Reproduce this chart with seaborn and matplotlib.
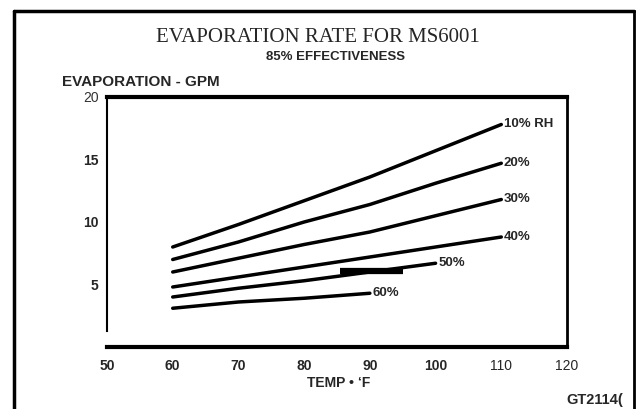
import matplotlib
matplotlib.use('Agg')
import matplotlib.pyplot as plt
import seaborn as sns
import pandas as pd

sns.set_theme(style='white')
plt.rcParams['font.family'] = ['Liberation Sans', 'DejaVu Sans']

# curves: evaporation (GPM) vs temperature (F) per relative humidity
temps = [60, 70, 80, 90, 100, 110]
rh_labels = ['10% RH', '20%', '30%', '40%', '50%', '60%']
evap_10 = [8.0, 9.8, 11.7, 13.6, 15.7, 17.8]
evap_20 = [7.0, 8.4, 10.0, 11.4, 13.1, 14.7]
evap_30 = [6.0, 7.1, 8.2, 9.2, 10.5, 11.8]
evap_40 = [4.8, 5.6, 6.4, 7.2, 8.0, 8.8]
evap_50 = [4.0, 4.7, 5.3, 6.0, 6.7]
evap_60 = [3.1, 3.6, 3.9, 4.3]
# the heavy smudge drawn over the 50% curve in the scan
smudge_x = [85.5, 95.0]
smudge_y = [6.1, 6.1]

x_ticks = [50, 60, 70, 80, 90, 100, 110, 120]
y_ticks = [5, 10, 15, 20]

rows = []
for lab, vals in zip(rh_labels, [evap_10, evap_20, evap_30, evap_40, evap_50, evap_60]):
    for t, v in zip(temps, vals):
        rows.append({'temp': t, 'evap': v, 'rh': lab})
df = pd.DataFrame(rows)

W, H = 636, 409
fig = plt.figure(figsize=(W / 100, H / 100), dpi=100)
ax = fig.add_axes([107 / W, 1 - 347 / H, 460 / W, 250 / H])

sns.lineplot(data=df, x='temp', y='evap', hue='rh', hue_order=rh_labels,
             palette=['black'] * len(rh_labels), linewidth=2.5, legend=False,
             ax=ax, sort=True)
ax.plot(smudge_x, smudge_y, color='black', linewidth=4.5, solid_capstyle='butt')

# curve labels at the line ends
for lab in rh_labels:
    sub = df[df['rh'] == lab]
    ax.text(sub['temp'].iloc[-1] + 0.4, sub['evap'].iloc[-1], lab,
            ha='left', va='center', fontsize=9.5, fontweight='bold')

ax.set_xlim(50, 120)
ax.set_ylim(0, 20)
ax.set_xticks(x_ticks)
ax.set_yticks(y_ticks)
ax.set_xlabel('')
ax.set_ylabel('')

ax.tick_params(axis='x', length=0, pad=9, labelsize=10)
ax.tick_params(axis='y', direction='in', length=12, width=1.6, pad=6, labelsize=10)
for lbl in ax.get_xticklabels():
    lbl.set_fontweight('normal' if lbl.get_text() in ('110', '120') else 'bold')
for lbl in ax.get_yticklabels():
    if lbl.get_text() == '20':
        lbl.set_fontweight('normal')
        lbl.set_color('#333333')
    else:
        lbl.set_fontweight('bold')
ax.yaxis.get_major_ticks()[-1].tick1line.set_visible(False)

for side, lw in [('top', 3.0), ('bottom', 3.0), ('right', 2.0), ('left', 1.5)]:
    ax.spines[side].set_visible(True)
    ax.spines[side].set_color('black')
    ax.spines[side].set_linewidth(lw)
ax.spines['left'].set_bounds(1.3, 20)

def fx(px):
    return px / W

def fy(py):
    return 1 - py / H

fig.text(fx(318), fy(38), 'EVAPORATION RATE FOR MS6001', ha='center', va='center',
         fontsize=15, family=['Liberation Serif', 'DejaVu Serif'])
fig.text(fx(335), fy(57), '85% EFFECTIVENESS', ha='center', va='center',
         fontsize=9.5, fontweight='bold')
fig.text(fx(62), fy(82), 'EVAPORATION - GPM', ha='left', va='center',
         fontsize=11, fontweight='bold')
fig.text(fx(339), fy(383), 'TEMP \u2022 \u2018F', ha='center', va='center',
         fontsize=10, fontweight='bold')
fig.text(fx(566), fy(400), 'GT2114(', ha='left', va='center',
         fontsize=10.5, fontweight='bold')

# outer page border (open at the bottom)
fig.add_artist(plt.Line2D([fx(14), fx(14)], [fy(11), 0], color='black', linewidth=2.5))
fig.add_artist(plt.Line2D([fx(14), fx(634)], [fy(11), fy(11)], color='black', linewidth=2.5))
fig.add_artist(plt.Line2D([fx(634), fx(634)], [fy(11), 0], color='black', linewidth=2.0))

fig.savefig('out.png', dpi=100)
plt.close(fig)
